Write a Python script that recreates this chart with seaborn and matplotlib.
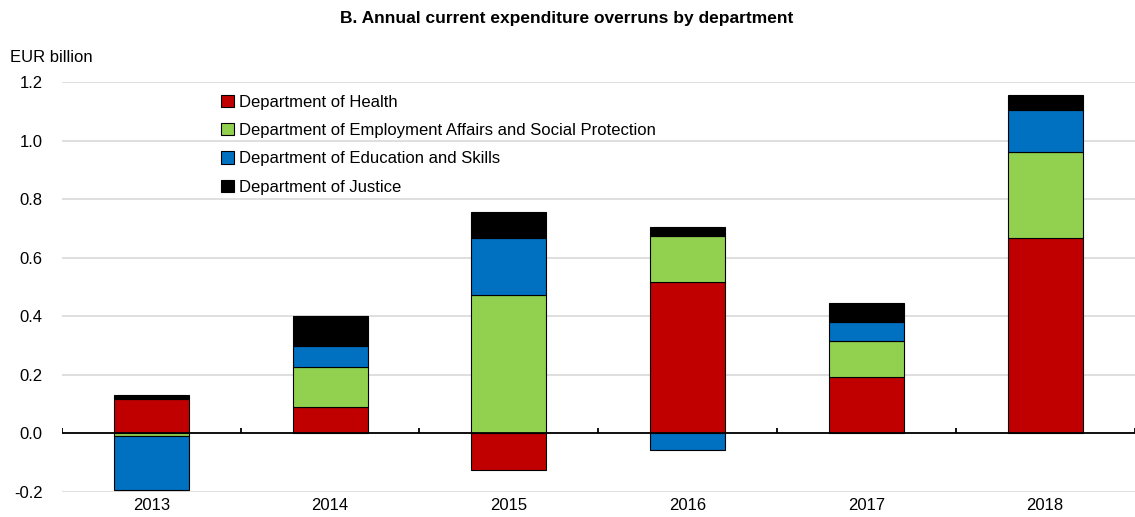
import numpy as np
import pandas as pd
import matplotlib
matplotlib.use("Agg")
import matplotlib.pyplot as plt
import seaborn as sns
from matplotlib.patches import Patch

# datos (EUR billion)
years = ["2013", "2014", "2015", "2016", "2017", "2018"]
health = [0.116, 0.091, -0.125, 0.516, 0.193, 0.666]
employment = [-0.010, 0.137, 0.472, 0.159, 0.121, 0.296]
education = [-0.183, 0.070, 0.194, -0.057, 0.066, 0.142]
justice = [0.016, 0.103, 0.089, 0.030, 0.065, 0.050]

series_names = ["Department of Health",
                "Department of Employment Affairs and Social Protection",
                "Department of Education and Skills",
                "Department of Justice"]
series_vals = [health, employment, education, justice]
colores = ["#C00000", "#92D050", "#0070C0", "#000000"]

sns.set_style("white")
plt.rcParams["font.family"] = ["Liberation Sans", "DejaVu Sans"]
plt.rcParams["font.size"] = 12
plt.rcParams["text.color"] = "black"
plt.rcParams["xtick.color"] = "black"
plt.rcParams["ytick.color"] = "black"

fig = plt.figure(figsize=(11.35, 5.17), dpi=100)
ax = fig.add_axes([0.0546, 0.0484, 0.945, 0.793])

# --- barras apiladas (positivos y negativos por separado) ---
pos_base = np.zeros(len(years))
neg_base = np.zeros(len(years))
for nombre, vals, col in zip(series_names, series_vals, colores):
    vals = np.array(vals)
    base = np.where(vals >= 0, pos_base, neg_base)
    df = pd.DataFrame({"year": years, "value": vals})
    sns.barplot(data=df, x="year", y="value", bottom=base, color=col,
                width=0.42, edgecolor="black", linewidth=0.8,
                saturation=1, errorbar=None, ax=ax)
    pos_base = pos_base + np.where(vals >= 0, vals, 0)
    neg_base = neg_base + np.where(vals < 0, vals, 0)

ax.set_ylim(-0.2, 1.2)
ax.set_xlim(-0.5, len(years) - 0.5)
ax.set_yticks(np.arange(-0.2, 1.21, 0.2))
ax.set_yticklabels([f"{v:.1f}" for v in np.arange(-0.2, 1.21, 0.2)])
ax.yaxis.grid(True, color="#d9d9d9", linewidth=1.2)
ax.set_axisbelow(True)
for s in ax.spines.values():
    s.set_visible(False)
ax.tick_params(axis="both", length=0, colors="black")
ax.tick_params(axis="y", pad=14)
ax.tick_params(axis="x", pad=4)
ax.set_xlabel("")
ax.set_ylabel("")

# eje en cero con marcas entre categorias
ax.axhline(0, color="black", linewidth=1.3, zorder=1)
ax.vlines(np.arange(-0.5, len(years)), 0, 0.017, color="black", linewidth=1.3, zorder=1)

fig.text(0.4996, 0.965, "B. Annual current expenditure overruns by department",
         ha="center", va="center", fontweight="bold", fontsize=12.5, color="black")
fig.text(0.009, 0.889, "EUR billion", ha="left", va="center", fontsize=12, color="black")

handles = [Patch(facecolor=c, edgecolor="black", linewidth=0.8) for c in colores]
ax.legend(handles, series_names, loc="upper left", bbox_to_anchor=(0.189, 0.830),
          bbox_transform=fig.transFigure, frameon=False, handlelength=0.75,
          handleheight=0.75, handletextpad=0.3, labelspacing=0.8, borderaxespad=0)

fig.savefig("out.png", dpi=100)
